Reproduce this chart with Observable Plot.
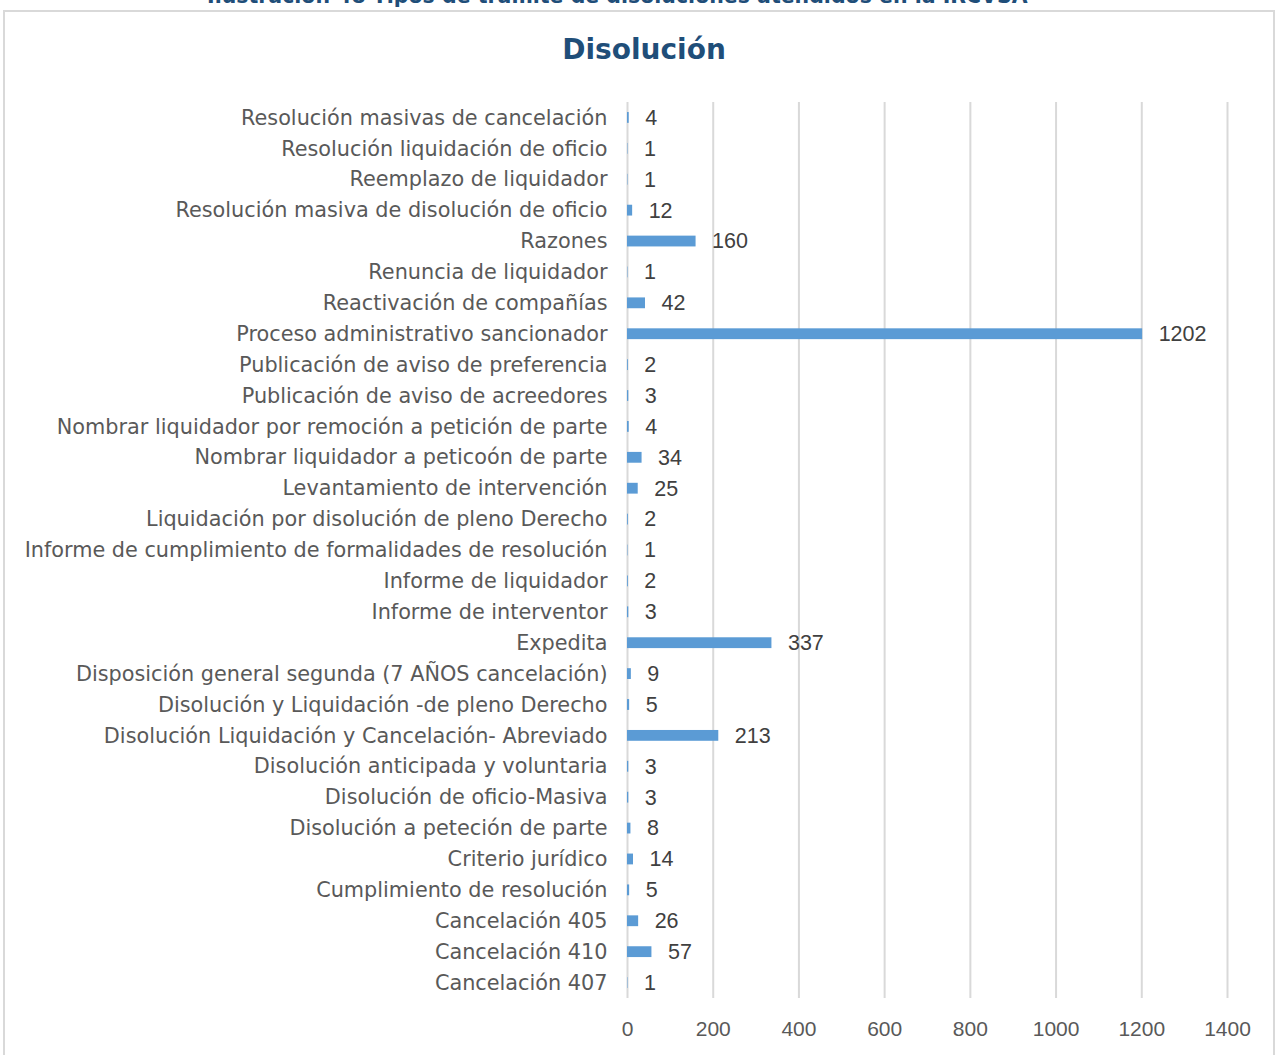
<!DOCTYPE html>
<html>
<head>
<meta charset="utf-8">
<script src="https://cdn.jsdelivr.net/npm/d3@7"></script>
<script src="https://cdn.jsdelivr.net/npm/@observablehq/plot@0.6"></script>
<style>
  html, body { margin: 0; padding: 0; background: #fff; overflow: hidden; }
  #page { position: relative; width: 1282px; height: 1055px; overflow: hidden; }
  #caption { position: absolute; left: 207px; top: -16px; font-family: "DejaVu Sans", sans-serif; font-weight: bold; font-size: 20.5px; color: #1F4E79; white-space: nowrap; }
  #frame { position: absolute; left: 3px; top: 10px; width: 1272px; height: 1100px; border: 2px solid #d9d9d9; box-sizing: border-box; }
  #title { position: absolute; left: 0; width: 1288px; top: 33px; text-align: center; font-family: "DejaVu Sans", sans-serif; font-weight: bold; font-size: 28px; color: #1F4E79; }
  #chart { position: absolute; left: 0; top: 0; }
</style>
</head>
<body>
<div id="page">
  <div id="caption">Ilustración 48 Tipos de trámite de disoluciones atendidos en la IRCVSA</div>
  <div id="frame"></div>
  <div id="title">Disolución</div>
  <div id="chart"></div>
</div>
<script>
const categories = [
  "Resolución masivas de cancelación",
  "Resolución liquidación de oficio",
  "Reemplazo de liquidador",
  "Resolución masiva de disolución de oficio",
  "Razones",
  "Renuncia de liquidador",
  "Reactivación de compañías",
  "Proceso administrativo sancionador",
  "Publicación de aviso de preferencia",
  "Publicación de aviso de acreedores",
  "Nombrar liquidador por remoción a petición de parte",
  "Nombrar liquidador a peticoón de parte",
  "Levantamiento de intervención",
  "Liquidación por disolución de pleno Derecho",
  "Informe de cumplimiento de formalidades de resolución",
  "Informe de liquidador",
  "Informe de interventor",
  "Expedita",
  "Disposición general segunda (7 AÑOS cancelación)",
  "Disolución y Liquidación -de pleno Derecho",
  "Disolución Liquidación y Cancelación- Abreviado",
  "Disolución anticipada y voluntaria",
  "Disolución de oficio-Masiva",
  "Disolución a peteción de parte",
  "Criterio jurídico",
  "Cumplimiento de resolución",
  "Cancelación 405",
  "Cancelación 410",
  "Cancelación 407"
];
const values = [4, 1, 1, 12, 160, 1, 42, 1202, 2, 3, 4, 34, 25, 2, 1, 2, 3, 337, 9, 5, 213, 3, 3, 8, 14, 5, 26, 57, 1];
const xTicks = [0, 200, 400, 600, 800, 1000, 1200, 1400];

const data = categories.map((c, i) => ({category: c, value: values[i]}));

const chart = Plot.plot({
  width: 1282,
  height: 1055,
  marginLeft: 627,
  marginRight: 55,
  marginTop: 102,
  marginBottom: 57,
  x: {domain: [0, 1400]},
  y: {domain: categories, paddingInner: 0.65, paddingOuter: 0.325, round: false},
  style: {background: "transparent"},
  marks: [
    Plot.gridX(xTicks, {stroke: "#d9d9d9", strokeOpacity: 1, strokeWidth: 2}),
    Plot.axisX({ticks: xTicks, tickFormat: d => String(d), tickSize: 0, tickPadding: 23, label: null, fontSize: 21, fill: "#595959", fontFamily: "'Liberation Sans', sans-serif"}),
    Plot.axisY({tickSize: 0, tickPadding: 20, label: null, fontSize: 20.8, fill: "#595959", fontFamily: "'DejaVu Sans', sans-serif"}),
    Plot.barX(data, {x: "value", y: "category", fill: "#5B9BD5"}),
    Plot.text(data, {x: "value", y: "category", text: d => String(d.value), dx: 16, textAnchor: "start", fontSize: 21.5, fill: "#404040", fontFamily: "'Liberation Sans', sans-serif"})
  ]
});
document.getElementById("chart").appendChild(chart);
</script>
</body>
</html>
